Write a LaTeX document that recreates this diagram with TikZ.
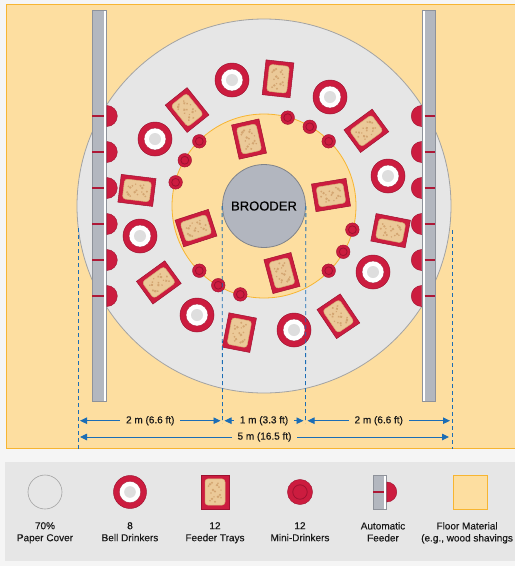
\documentclass[tikz,border=0pt]{standalone}
\usepackage{fontspec}
\setmainfont[FakeBold=0.35]{Liberation Sans}
\newfontfamily\dimfont[FakeBold=0.6]{Liberation Sans}
\usetikzlibrary{arrows.meta}

\definecolor{pagebg}{HTML}{F5F5F5}
\definecolor{floorfill}{HTML}{FDDEA0}
\definecolor{floorline}{HTML}{F7B531}
\definecolor{paperfill}{HTML}{E6E6E6}
\definecolor{paperline}{HTML}{A3A3A3}
\definecolor{brooderfill}{HTML}{B2B6BF}
\definecolor{brooderline}{HTML}{7F838A}
\definecolor{drinkred}{HTML}{CC1C3F}
\definecolor{darkred}{HTML}{9E1230}
\definecolor{trayfill}{HTML}{EBC998}
\definecolor{trayedge}{HTML}{D9AE78}
\definecolor{speck}{HTML}{D3A571}
\definecolor{bargray}{HTML}{B3B7BF}
\definecolor{barline}{HTML}{8E929A}
\definecolor{bellcore}{HTML}{DEDEDE}
\definecolor{dimblue}{HTML}{1B6DB5}
\definecolor{legendbg}{HTML}{E6E6E6}

\tikzset{
  tray/.pic={
    \filldraw[fill=drinkred, draw=darkred, line width=0.5pt] (-14,-17.5) rectangle (14,17.5);
    \filldraw[fill=trayfill, draw=trayedge, line width=0.5pt, rounded corners=3pt] (-10,-13.5) rectangle (10,13.5);
    \fill[speck] (-5,8) circle (1.5) (-3,9.5) circle (1.2) (-6.5,6) circle (1) (2,7) circle (1.3)
      (4,5) circle (1) (3,9) circle (0.9) (-2,2) circle (1.4) (0,0.5) circle (1.1) (-4,-1) circle (0.9)
      (5,-3) circle (1.2) (3,-5) circle (1.4) (6,-6) circle (0.9) (-3,-7) circle (1.3) (-5,-9) circle (1)
      (0,-10) circle (1.1) (-1,-5) circle (0.8) (6,2) circle (0.8);
  },
  bell/.pic={
    \filldraw[fill=drinkred, draw=darkred, line width=0.5pt] (0,0) circle (17);
    \filldraw[fill=white, draw=darkred, line width=0.3pt] (0,0) circle (11);
    \fill[bellcore] (0,0) circle (6);
  },
  mini/.pic={
    \filldraw[fill=drinkred, draw=darkred, line width=0.4pt] (0,0) circle (6.8);
    \draw[darkred, line width=0.8pt] (0,0) circle (3.9);
  },
  pan/.style={fill=drinkred, draw=darkred, line width=0.4pt},
  panmark/.style={draw=drinkred!85!black, line width=2pt},
  barbody/.style={fill=bargray},
  dimline/.style={draw=dimblue, line width=0.8pt, dash pattern=on 4pt off 3pt},
  dimarrow/.style={draw=dimblue, line width=0.9pt, {Triangle[length=7pt,width=6.5pt]}-{Triangle[length=7pt,width=6.5pt]}, shorten <=2pt, shorten >=2pt},
  dimlabel/.style={fill=floorfill, inner xsep=6pt, inner ysep=1pt, font=\dimfont\fontsize{10}{12}\selectfont, text=black!90},
  legendtext/.style={align=center, inner sep=0pt, anchor=north, font=\fontsize{10}{12}\selectfont, text=black!90},
}

\begin{document}
\begin{tikzpicture}[x=1pt,y=1pt]
\useasboundingbox (0,0) rectangle (515,-566);
\fill[pagebg] (0,0) rectangle (515,-566);

% floor and legend panels
\filldraw[fill=floorfill, draw=floorline, line width=0.8pt] (6,-4.5) rectangle (522,-448.5);
\fill[legendbg] (5,-462) rectangle (522,-561);

% paper cover, inner bare ring and brooder
\node[circle, minimum size=374pt, inner sep=0pt, fill=paperfill, draw=paperline, line width=0.8pt] (paper) at (264,-206) {};
\node[circle, minimum size=184pt, inner sep=0pt, fill=floorfill, draw=floorline, line width=0.8pt] (ring) at (264,-206) {};
\node[circle, minimum size=83pt, inner sep=0pt, fill=brooderfill, draw=brooderline, line width=0.8pt,
      font=\fontsize{13}{15}\selectfont] (brooder) at (264,-206) {BROODER};

% automatic feeder lines with their pans
\fill[barbody] (92,-10) rectangle (104,-401);
\fill[white] (104,-10) rectangle (106.5,-401);
\draw[barline, line width=0.6pt] (92,-10) rectangle (106.5,-401);
\fill[barbody] (424.5,-10) rectangle (435,-401);
\fill[white] (422,-10) rectangle (424.5,-401);
\draw[barline, line width=0.6pt] (422,-10) rectangle (435,-401);
\foreach \y in {116,152,188,224,260,296}{
  \filldraw[pan] (106.8,-\y+10.5) arc (90:-90:10.5) -- cycle;
  \draw[panmark] (92.3,-\y) -- (104,-\y);
  \filldraw[pan] (421.7,-\y+10.5) arc (90:270:10.5) -- cycle;
  \draw[panmark] (424.5,-\y) -- (434.7,-\y);
}

% bell drinkers
\foreach \x/\y in {232/80,155/139,330/97,388/176,140/236,197/315,373/272,294/330}
  \pic at (\x,-\y) {bell};

% feeder trays, outer and inner rings
\begin{scope}[shift={(264,-206)}]
  \foreach \a/\r in {128.7/123,83.7/128,36.3/127,173/128,216/130,259/129,304/133,349/129,
                     102.6/68.6,9.3/67.9,285/69.4,198/71.5}
    \pic[rotate=\a-90] at (\a:\r) {tray};
  % mini-drinkers on the edge of the bare ring
  \foreach \a in {45,60,75,135,150,165,225,240,255,315,330,345}
    \pic at (\a:91.5) {mini};
\end{scope}

% dimension guides
\coordinate (gL) at (78,-228);
\coordinate (gLb) at (78,-448.5);
\coordinate (gR) at (452,-230);
\coordinate (gRb) at (452,-448.5);
\coordinate (bLb) at (222.5,-423);
\coordinate (bRb) at (305.5,-423);
\draw[dimline] (gL) -- (gLb);
\draw[dimline] (gR) -- (gRb);
\draw[dimline] (brooder.west) -- (bLb);
\draw[dimline] (brooder.east) -- (bRb);

\coordinate (d1) at (78,-420.7);
\coordinate (d2) at (222.5,-420.7);
\coordinate (d3) at (305.5,-420.7);
\coordinate (d4) at (452,-420.7);
\coordinate (e1) at (78,-437);
\coordinate (e2) at (451,-437);
\draw[dimarrow] (d1) -- node[dimlabel] {2 m (6.6 ft)} (d2);
\draw[dimarrow] (d2) -- node[dimlabel] {1 m (3.3 ft)} (d3);
\draw[dimarrow] (d3) -- node[dimlabel] {2 m (6.6 ft)} (d4);
\draw[dimarrow] (e1) -- node[dimlabel] {5 m (16.5 ft)} (e2);

% legend
\node[circle, minimum size=34pt, inner sep=0pt, fill=paperfill, draw=paperline, line width=0.6pt] (lgpaper) at (45,-492) {};
\node[legendtext] (lgpapertx) at (45,-522) {70\%\\Paper Cover};

\pic[scale=0.97] at (130,-492) {bell};
\node[legendtext] (lgbelltx) at (130,-522) {8\\Bell Drinkers};

\pic[yscale=0.97] at (215,-492) {tray};
\node[legendtext] (lgtraytx) at (215,-522) {12\\Feeder Trays};

\pic[scale=1.85] at (300,-492) {mini};
\node[legendtext] (lgminitx) at (300,-522) {12\\Mini-Drinkers};

\fill[barbody] (373,-475) rectangle (383.5,-509);
\fill[white] (383.5,-475) rectangle (386.5,-509);
\draw[barline, line width=0.6pt] (373,-475) rectangle (386.5,-509);
\filldraw[pan] (386.8,-482) arc (90:-90:10) -- cycle;
\draw[panmark] (373.3,-492) -- (384,-492);
\node[legendtext] (lgfeedtx) at (383,-522) {Automatic\\Feeder};

\filldraw[fill=floorfill, draw=floorline, line width=0.8pt] (453,-475) rectangle (487,-509);
\node[legendtext, anchor=north west] (lgfloortx) at (421,-522) {Floor Material\\(e.g., wood shavings};
\end{tikzpicture}
\end{document}
